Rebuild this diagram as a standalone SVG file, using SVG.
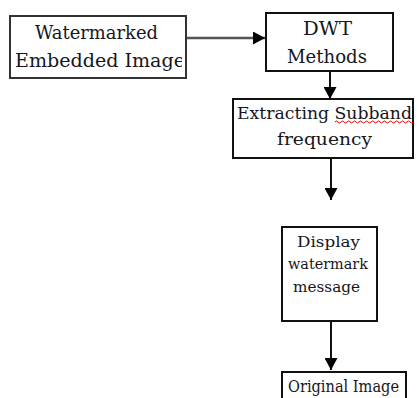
<svg xmlns="http://www.w3.org/2000/svg" width="417" height="398" viewBox="0 0 417 398">
<style>
.box{fill:#fff;stroke:#111;stroke-width:2}
.t{font-family:'DejaVu Serif','Liberation Serif',serif;fill:#161620;text-anchor:middle}
.c{stroke:#111;stroke-width:2;fill:none}
</style>
<defs>
<marker id="ah" markerWidth="12" markerHeight="13" viewBox="0 0 12 13" refX="12" refY="6.5" orient="auto" markerUnits="userSpaceOnUse">
<path d="M0,0 L12,6.5 L0,13 Z" fill="#000"/>
</marker>
<clipPath id="clip1"><rect x="10" y="16" width="172" height="62"/></clipPath>
</defs>
<g id="connectors">
<line x1="186" y1="38" x2="265" y2="38" style="stroke:#555;stroke-width:2.5" marker-end="url(#ah)"/>
<line class="c" x1="330" y1="71" x2="330" y2="99" marker-end="url(#ah)"/>
<line class="c" x1="331" y1="158" x2="331" y2="200" marker-end="url(#ah)"/>
<line class="c" x1="331" y1="321" x2="331" y2="370" marker-end="url(#ah)"/>
</g>
<g id="n1">
<rect class="box" x="10" y="16" width="176" height="62" style="stroke:#333"/>
<g clip-path="url(#clip1)">
<text class="t" x="96.5" y="39" font-size="18" textLength="123" lengthAdjust="spacingAndGlyphs">Watermarked</text>
<text class="t" x="100" y="67" font-size="18" textLength="170" lengthAdjust="spacingAndGlyphs">Embedded Image</text>
</g>
</g>
<g id="n2">
<rect class="box" x="266" y="13" width="127" height="58"/>
<text class="t" x="327.5" y="35" font-size="18" textLength="49" lengthAdjust="spacingAndGlyphs">DWT</text>
<text class="t" x="327" y="63" font-size="18" textLength="80" lengthAdjust="spacingAndGlyphs">Methods</text>
</g>
<g id="n3">
<rect class="box" x="233" y="99" width="180" height="59"/>
<text class="t" x="324.5" y="119" font-size="17" textLength="175" lengthAdjust="spacingAndGlyphs">Extracting Subband</text>
<text class="t" x="324.5" y="145" font-size="17" textLength="95" lengthAdjust="spacingAndGlyphs">frequency</text>
<path d="M335,122 q1.5,-2 3,0 t3,0 t3,0 t3,0 t3,0 t3,0 t3,0 t3,0 t3,0 t3,0 t3,0 t3,0 t3,0 t3,0 t3,0 t3,0 t3,0 t3,0 t3,0 t3,0 t3,0 t3,0 t3,0 t3,0 t3,0 t3,0" fill="none" stroke="#e00" stroke-width="1"/>
</g>
<g id="n4">
<rect class="box" x="282" y="227" width="95" height="94"/>
<text class="t" x="328.5" y="247" font-size="15" textLength="63" lengthAdjust="spacingAndGlyphs">Display</text>
<text class="t" x="328" y="269" font-size="15" textLength="80" lengthAdjust="spacingAndGlyphs">watermark</text>
<text class="t" x="326.5" y="292" font-size="15" textLength="67" lengthAdjust="spacingAndGlyphs">message</text>
</g>
<g id="n5">
<rect class="box" x="282" y="372" width="124" height="40"/>
<text class="t" x="343.5" y="392" font-size="16" textLength="111" lengthAdjust="spacingAndGlyphs">Original Image</text>
</g>
</svg>
